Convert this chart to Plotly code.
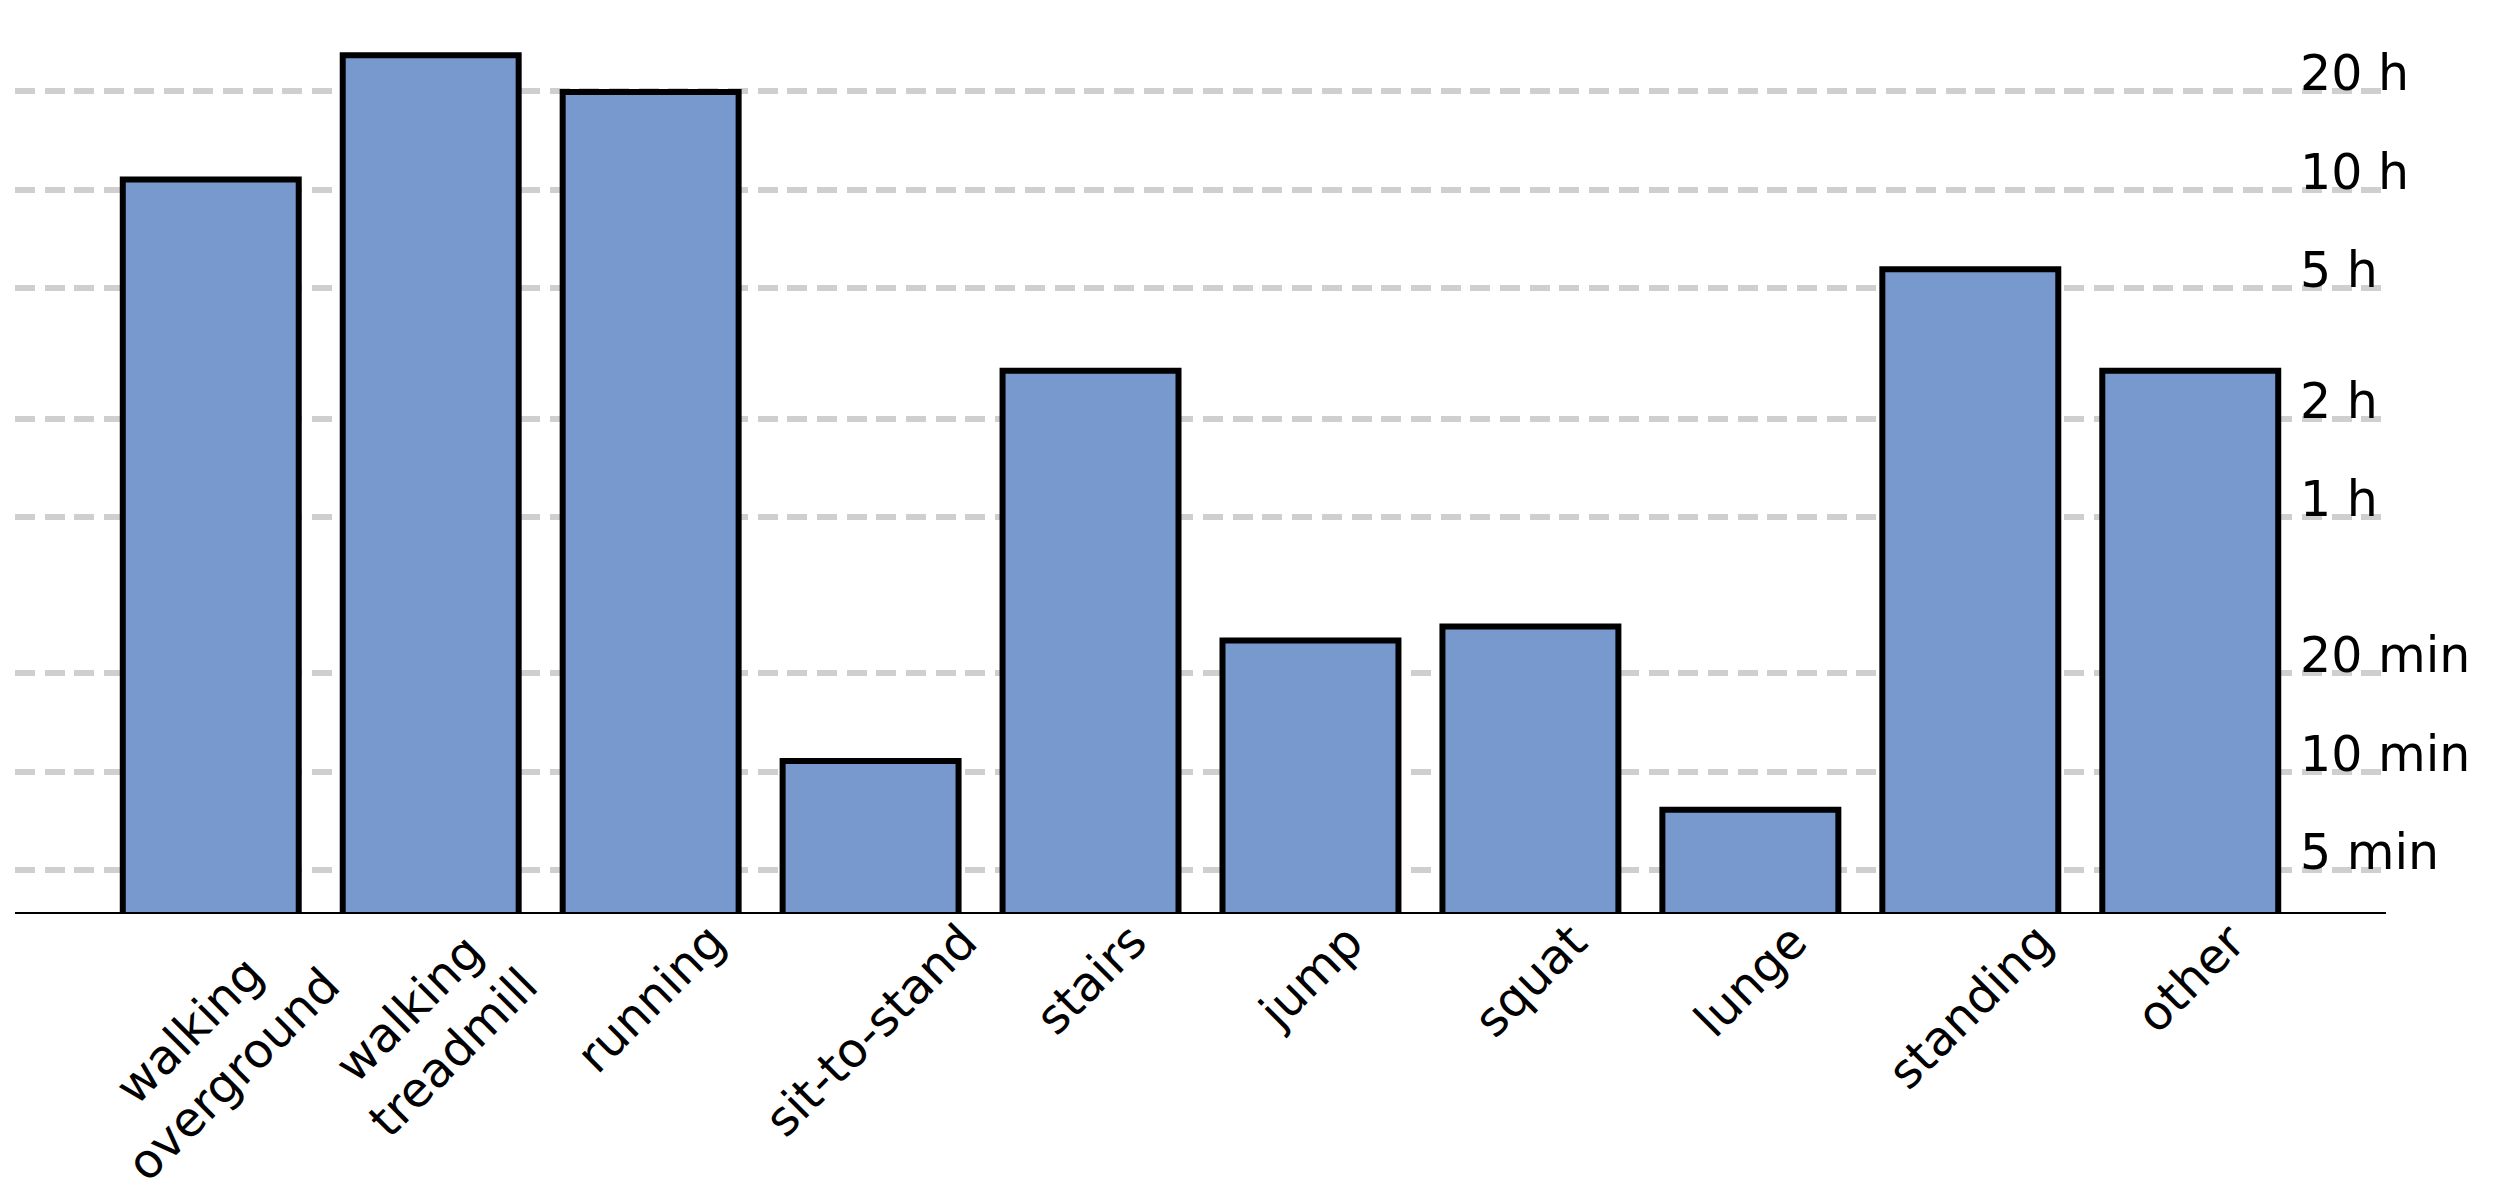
import math
import plotly.graph_objects as go

# time spent per activity, in minutes
activities = ["walking<br>overground", "walking<br>treadmill", "running", "sit-to-stand",
              "stairs", "jump", "squat", "lunge", "standing", "other"]
minutes = [645, 1546, 1195, 10.8, 168, 25.2, 27.8, 7.66, 343, 168]

tick_minutes = [5, 10, 20, 60, 120, 300, 600, 1200]
tick_text = ["5 min", "10 min", "20 min", "1 h", "2 h", "5 h", "10 h", "20 h"]

FONT = "DejaVu Sans"

fig = go.Figure()
fig.add_trace(go.Bar(
    x=activities, y=minutes,
    marker=dict(color="#7899cd", line=dict(color="black", width=6)),
    showlegend=False,
))

annotations = []
# y tick labels sit just above their gridline, left-aligned near the right edge
for v, t in zip(tick_minutes, tick_text):
    annotations.append(dict(
        x=0.9629, xref="paper", xanchor="left",
        y=math.log10(v), yref="y", yanchor="bottom", yshift=-13,
        text=t, showarrow=False, font=dict(family=FONT, size=49, color="black"),
    ))
# rotated category labels, centred under each bar
for a in activities:
    annotations.append(dict(
        x=a, xref="x", xanchor="center",
        y=0, yref="paper", yanchor="top", yshift=2,
        text=a, textangle=-45, showarrow=False, align="center",
        font=dict(family=FONT, size=48, color="black"),
    ))

# page body has an 8px margin, so the figure is 8px smaller than the window
fig.update_layout(
    width=2492, height=1192,
    margin=dict(l=7, r=114, t=12, b=288),
    paper_bgcolor="white", plot_bgcolor="white",
    bargap=0.2,
    font=dict(family=FONT, size=48, color="black"),
    annotations=annotations,
)
fig.update_xaxes(
    range=[-0.89, 9.89], showticklabels=False, ticks="",
    showgrid=False, showline=True, linecolor="black", linewidth=1.5, zeroline=False,
)
fig.update_yaxes(
    type="log", range=[0.572, 3.297],
    tickvals=tick_minutes, showticklabels=False, ticks="",
    showgrid=True, gridcolor="#cfcfcf", gridwidth=5.5, griddash="20px,9.7px",
    showline=False, zeroline=False,
)

fig.write_html("out.html")
